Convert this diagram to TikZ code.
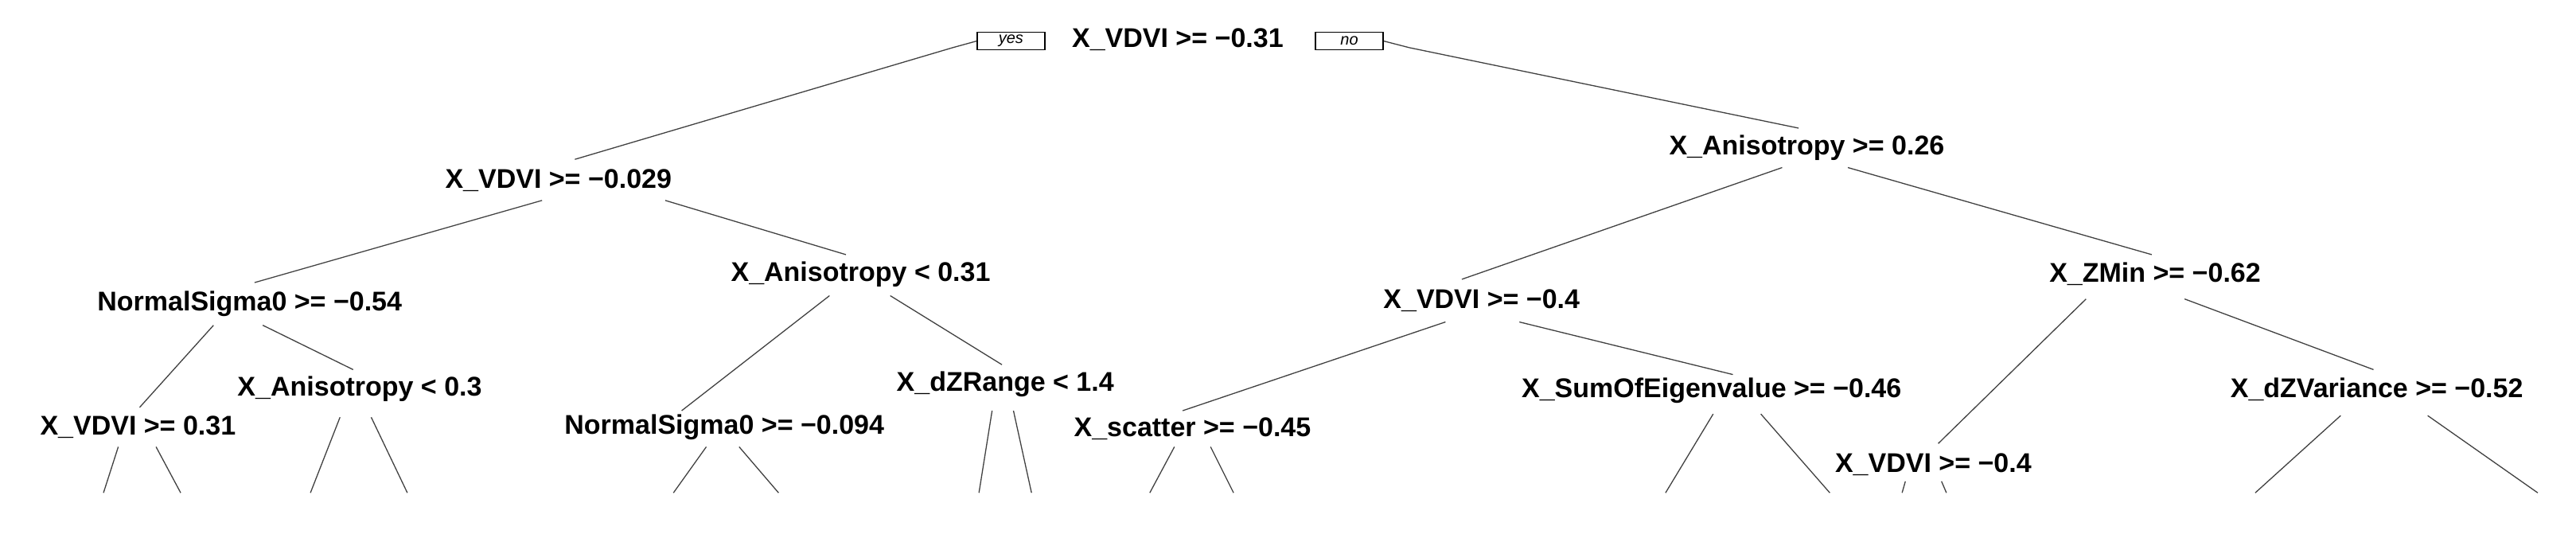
\documentclass[tikz,border=0pt]{standalone}
\usepackage{fontspec}
\setmainfont{Liberation Sans}
\begin{document}
\begin{tikzpicture}[x=2.064pt,y=-2.064pt,
  lab/.style={inner sep=0pt,font=\fontsize{34}{38}\selectfont\bfseries},
  yn/.style={draw,line width=1.5pt,minimum width=85pt,minimum height=22pt,inner sep=0pt,font=\fontsize{20}{22}\selectfont\itshape},
  edge/.style={line width=1.3pt,draw=black!75}]
\useasboundingbox (0,0) rectangle (1568.3,329.5);
\node[lab] (r) at (717,24) {X\_VDVI >= −0.31};
\node[yn] (yes) at (615.5,25) {yes};
\node[yn] (no) at (821.5,25) {no};
\node[lab] (A) at (340,110) {X\_VDVI >= −0.029};
\node[lab] (B) at (1100,90) {X\_Anisotropy >= 0.26};
\node[lab] (C) at (152,185) {NormalSigma0 >= −0.54};
\node[lab] (D) at (524,167) {X\_Anisotropy < 0.31};
\node[lab] (E) at (84,260) {X\_VDVI >= 0.31};
\node[lab] (F) at (219,237) {X\_Anisotropy < 0.3};
\node[lab] (G) at (441,260) {NormalSigma0 >= −0.094};
\node[lab] (H) at (612,234) {X\_dZRange < 1.4};
\node[lab] (I) at (902,183) {X\_VDVI >= −0.4};
\node[lab] (J) at (1312,167) {X\_ZMin >= −0.62};
\node[lab] (K) at (726,261) {X\_scatter >= −0.45};
\node[lab] (L) at (1042,238) {X\_SumOfEigenvalue >= −0.46};
\node[lab] (M) at (1177,283) {X\_VDVI >= −0.4};
\node[lab] (N) at (1447,237) {X\_dZVariance >= −0.52};
% root
\draw[edge] (yes.west) -- (580,29) -- (350,97);
\draw[edge] (no.east) -- (858,29) -- (1095,78);
% internal
\draw[edge] (330,122) -- (155,172);
\draw[edge] (405,122) -- (515,155);
\draw[edge] (1085,102) -- (890,170);
\draw[edge] (1125,102) -- (1310,155);
\draw[edge] (130,198) -- (85,248);
\draw[edge] (160,198) -- (215,225);
\draw[edge] (505,180) -- (415,250);
\draw[edge] (542,180) -- (610,222);
\draw[edge] (880,196) -- (720,250);
\draw[edge] (925,196) -- (1055,228);
\draw[edge] (1270,182) -- (1180,270);
\draw[edge] (1330,182) -- (1445,225);
% leaves
\draw[edge] (72,272) -- (63,300);
\draw[edge] (95,272) -- (110,300);
\draw[edge] (207,254) -- (189,300);
\draw[edge] (226,254) -- (248,300);
\draw[edge] (430,272) -- (410,300);
\draw[edge] (450,272) -- (474,300);
\draw[edge] (604,250) -- (596,300);
\draw[edge] (617,250) -- (628,300);
\draw[edge] (715,272) -- (700,300);
\draw[edge] (737,272) -- (751,300);
\draw[edge] (1043,252) -- (1014,300);
\draw[edge] (1072,252) -- (1114,300);
\draw[edge] (1160,293) -- (1158,300);
\draw[edge] (1182,293) -- (1185,300);
\draw[edge] (1425,253) -- (1373,300);
\draw[edge] (1478,253) -- (1545,300);
\end{tikzpicture}
\end{document}
